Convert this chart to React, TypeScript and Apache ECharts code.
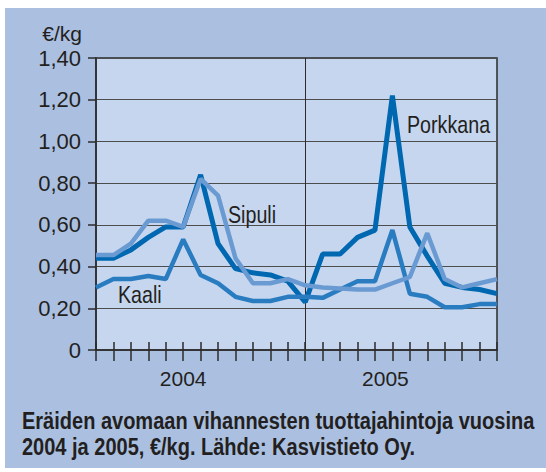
import React, { useEffect, useRef } from "react";
import * as echarts from "echarts";

const months = [
  "2004-01","2004-02","2004-03","2004-04","2004-05","2004-06",
  "2004-07","2004-08","2004-09","2004-10","2004-11","2004-12",
  "2005-01","2005-02","2005-03","2005-04","2005-05","2005-06",
  "2005-07","2005-08","2005-09","2005-10","2005-11","2005-12",
];
const porkkana = [0.44,0.44,0.48,0.54,0.59,0.59,0.84,0.51,0.39,0.37,0.36,0.33,0.23,0.46,0.46,0.54,0.575,1.22,0.59,0.45,0.32,0.30,0.29,0.27];
const sipuli = [0.455,0.455,0.51,0.62,0.62,0.59,0.82,0.74,0.44,0.32,0.32,0.34,0.31,0.30,0.295,0.29,0.29,0.32,0.35,0.56,0.34,0.30,0.32,0.34];
const kaali = [0.30,0.34,0.34,0.355,0.34,0.53,0.36,0.32,0.255,0.235,0.235,0.255,0.255,0.25,0.29,0.33,0.33,0.575,0.27,0.255,0.205,0.205,0.22,0.22];
const yearLabels: Record<number, string> = { 5: "2004", 17: "2005" };
const unit = "€/kg";
const caption1 = "Eräiden avomaan vihannesten tuottajahintoja vuosina";
const caption2 = "2004 ja 2005, €/kg. Lähde: Kasvistieto Oy.";

const FONT = "'Liberation Sans', Arial, sans-serif";
const TXT = "#231f20";
const LINE = "#2b2b2b";

function captionScale(): number {
  try {
    const ctx = document.createElement("canvas").getContext("2d");
    if (!ctx) return 0.82;
    ctx.font = `bold 24px ${FONT}`;
    const w = ctx.measureText(caption1).width;
    return w > 0 ? 513 / w : 0.82;
  } catch {
    return 0.82;
  }
}

export default function App() {
  const ref = useRef<HTMLDivElement>(null);
  useEffect(() => {
    if (!ref.current) return;
    const chart = echarts.init(ref.current, undefined, { renderer: "svg" });
    const cs = captionScale();
    const lbl = (text: string, x: number, y: number) => ({
      type: "text", x, y, z: 10, scaleX: 0.82,
      style: { text, font: `24px ${FONT}`, fill: TXT, verticalAlign: "middle" },
    });
    chart.setOption({
      animation: false,
      backgroundColor: "#ffffff",
      textStyle: { fontFamily: FONT },
      graphic: [
        { type: "rect", z: -10, shape: { x: 5, y: 8, width: 541, height: 460 }, style: { fill: "#abc0e1" } },
        { type: "text", x: 22, y: 421, scaleX: cs, style: { text: caption1, font: `bold 24px ${FONT}`, fill: TXT, verticalAlign: "middle" } },
        { type: "text", x: 22, y: 447, scaleX: cs, style: { text: caption2, font: `bold 24px ${FONT}`, fill: TXT, verticalAlign: "middle" } },
        lbl("Porkkana", 407, 125),
        lbl("Sipuli", 228, 215),
        lbl("Kaali", 118, 295),
      ],
      grid: {
        left: 96, right: 49, top: 58, bottom: 122,
        show: true, backgroundColor: "#c6d6ef", borderColor: LINE, borderWidth: 1.5,
      },
      xAxis: [
        {
          type: "category", data: months, boundaryGap: false,
          axisLine: { lineStyle: { color: LINE, width: 1.5 } },
          axisTick: { show: true, interval: 0, length: 11, lineStyle: { color: LINE, width: 1.5 } },
          axisLabel: {
            interval: 0, margin: 18, fontSize: 21, color: TXT, fontFamily: FONT,
            formatter: (_v: string, i: number) => (i === 17 ? "{s|" + yearLabels[i] + "}" : yearLabels[i] || ""),
            rich: { s: { fontSize: 21, fontFamily: FONT, color: TXT, padding: [0, 14, 0, 0] } },
          },
          splitLine: { show: true, interval: (i: number) => i === 12, lineStyle: { color: LINE, width: 1 } },
        },
        {
          type: "category", data: months, boundaryGap: false, position: "bottom",
          axisLine: { show: false },
          axisTick: { show: true, inside: true, interval: 0, length: 8, lineStyle: { color: LINE, width: 1.5 } },
          axisLabel: { show: false },
          splitLine: { show: false },
        },
      ],
      yAxis: {
        type: "value", min: 0, max: 1.4, interval: 0.2,
        name: unit, nameLocation: "end", nameGap: 15,
        nameTextStyle: { fontSize: 21, lineHeight: 19, color: TXT, fontFamily: FONT, align: "right", padding: [0, 14, 0, 0] },
        axisLine: { show: true, lineStyle: { color: LINE, width: 1.5 } },
        axisTick: { show: true, length: 8, lineStyle: { color: LINE, width: 1.5 } },
        axisLabel: {
          margin: 15, fontSize: 22, lineHeight: 19, color: TXT, fontFamily: FONT,
          formatter: (v: number) => (v === 0 ? "0" : v.toFixed(2).replace(".", ",")),
        },
        splitLine: { show: true, lineStyle: { color: "#4d4d4d", width: 1 } },
      },
      series: [
        { name: "Porkkana", type: "line", data: porkkana, symbol: "none", lineStyle: { color: "#0067b1", width: 5 }, z: 3 },
        { name: "Kaali", type: "line", data: kaali, symbol: "none", lineStyle: { color: "#2a7cc1", width: 4.5 }, z: 4 },
        { name: "Sipuli", type: "line", data: sipuli, symbol: "none", lineStyle: { color: "#6a9ad2", width: 4.5 }, z: 5 },
      ],
    });
    return () => chart.dispose();
  }, []);
  return <div ref={ref} style={{ position: "fixed", left: 0, top: 0, width: 546, height: 472 }} />;
}
